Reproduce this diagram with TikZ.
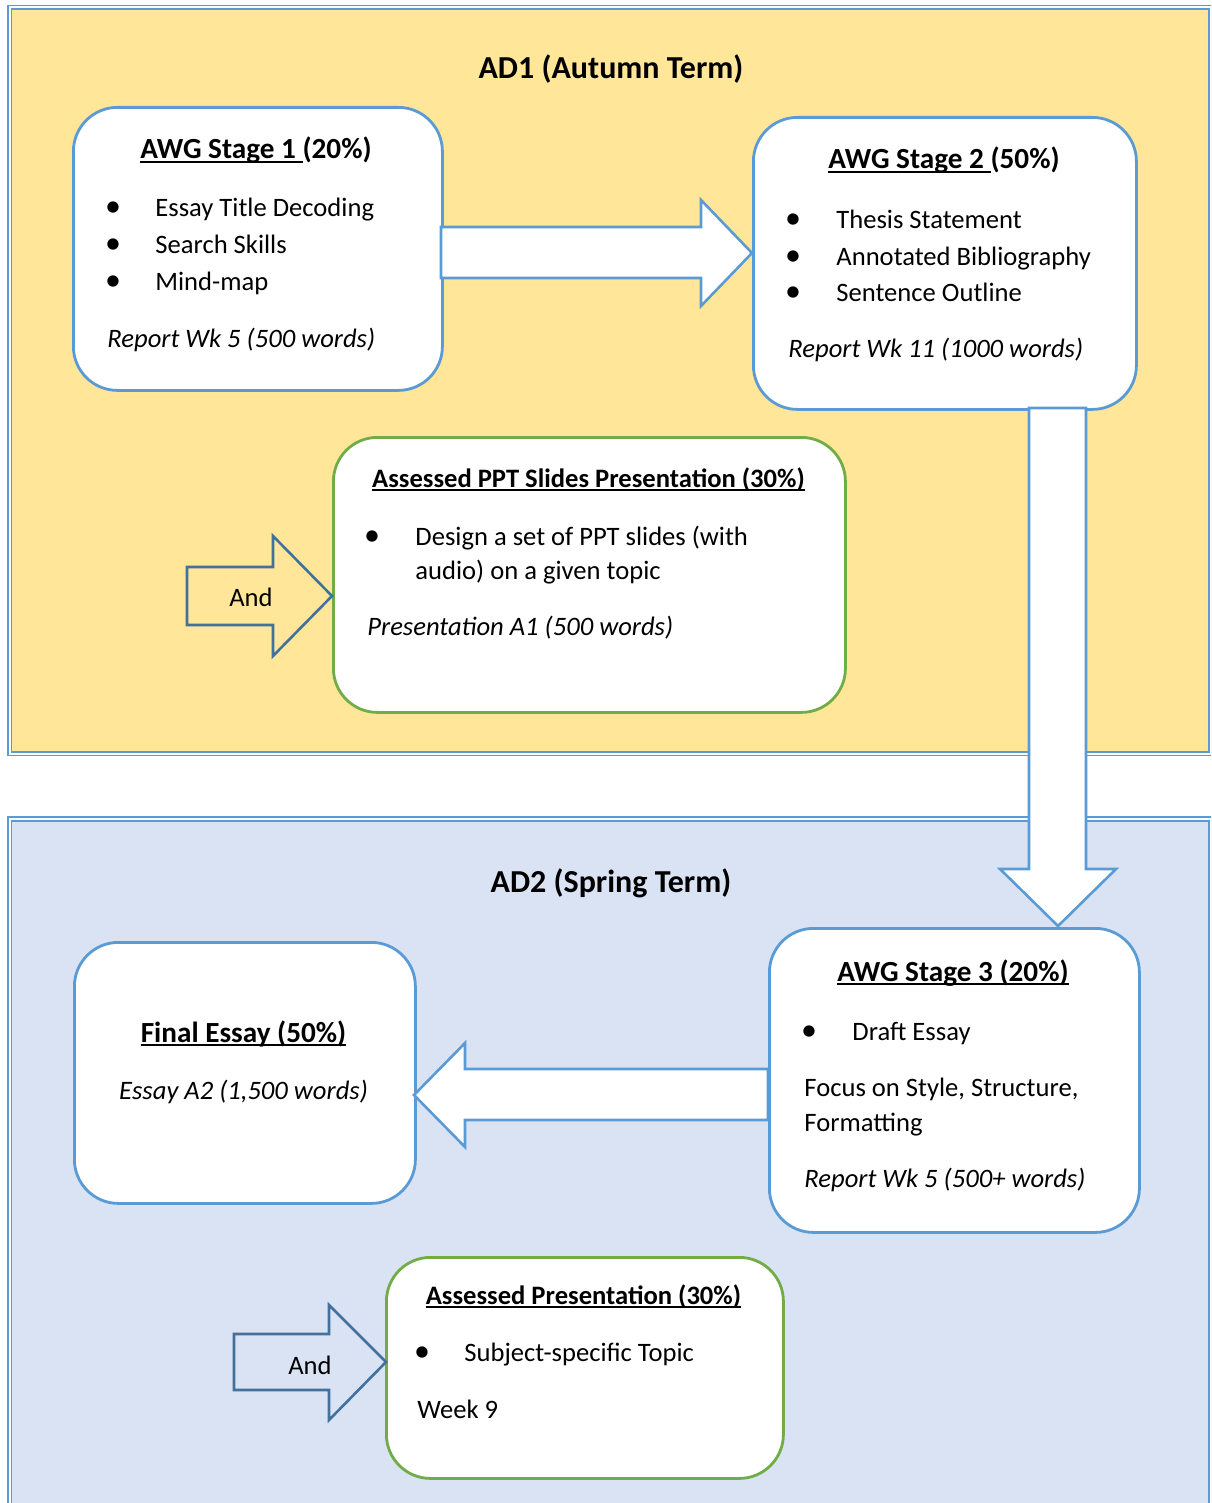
\documentclass[tikz,border=0pt]{standalone}
\usepackage{fontspec}
\setmainfont{Carlito}
\definecolor{yel}{HTML}{FFE699}
\definecolor{pblue}{HTML}{DAE3F3}
\definecolor{bl}{HTML}{5B9BD5}
\definecolor{dk}{HTML}{41719C}
\definecolor{gr}{HTML}{70AD47}
\newcommand\myul[1]{\setbox0\hbox{#1}\rlap{\rule[-2.2pt]{\wd0}{1.1pt}}\box0}
\tikzset{
 panel/.style={draw=bl, line width=0.8pt, double=white, double distance=1pt},
 box/.style={rectangle, rounded corners=22pt, draw=bl, fill=white, line width=1.4pt, anchor=north west, inner sep=0pt},
 gbox/.style={box, draw=gr},
 blk/.style={draw=bl, fill=white, line width=1.3pt, line join=miter},
 andarr/.style={draw=dk, line width=1.3pt, line join=miter},
 body/.style={font=\fontsize{13.3}{18.3}\selectfont, inner sep=0pt, anchor=base west},
 ital/.style={font=\fontsize{13.3}{18.3}\selectfont\itshape, inner sep=0pt, anchor=base west},
 head/.style={font=\fontsize{14.6}{18}\selectfont\bfseries, inner sep=0pt, anchor=base},
 shead/.style={font=\fontsize{13.3}{18}\selectfont\bfseries, inner sep=0pt, anchor=base},
 ttl/.style={font=\fontsize{16}{20}\selectfont\bfseries, inner sep=0pt, anchor=base},
 bul/.style={font=\fontsize{16}{18}\selectfont, inner sep=0pt, anchor=base},
}
\begin{document}
\begin{tikzpicture}[x=0.5pt,y=-0.5pt]
\useasboundingbox (0,0) rectangle (1211,1503);
\clip (0,0) rectangle (1211,1503);
\fill[white] (0,0) rectangle (1211,1503);
% panels
\draw[panel, fill=yel] (9.8,7.5) rectangle (1210.5,753.5);
\draw[panel, fill=pblue] (9.8,819) rectangle (1210.5,1540);
\node[ttl] (t1) at (611,79) {AD1 (Autumn Term)};
\node[ttl] (t2) at (611,892) {AD2 (Spring Term)};
% boxes
\node[box, minimum width=184.5pt, minimum height=141.5pt] (s1) at (72,106) {};
\node[box, minimum width=191.5pt, minimum height=146pt] (s2) at (752,116) {};
\node[gbox, minimum width=256pt, minimum height=137.5pt] (ppt) at (332,436) {};
\node[box, minimum width=185pt, minimum height=152pt] (s3) at (768,927) {};
\node[box, minimum width=170.5pt, minimum height=130.5pt] (fe) at (73,941) {};
\node[gbox, minimum width=198.5pt, minimum height=110.5pt] (ap) at (385,1256) {};
% block arrows
\draw[blk] (441,227) -- (701,227) -- (701,200) -- (752,253) -- (701,306) -- (701,278) -- (441,278) -- cycle;
\draw[blk] (1029,408) -- (1029,869) -- (1000,869) -- (1058,926) -- (1116,869) -- (1086,869) -- (1086,408) -- cycle;
\draw[blk] (768,1069) -- (465,1069) -- (465,1043) -- (414,1095) -- (465,1147) -- (465,1120) -- (768,1120) -- cycle;
\draw[andarr] (187,567) -- (273,567) -- (273,536) -- (332,596) -- (273,656) -- (273,625) -- (187,625) -- cycle;
\draw[andarr] (234,1334) -- (329,1334) -- (329,1305) -- (386,1362) -- (329,1420) -- (329,1390) -- (234,1390) -- cycle;
\node[body, anchor=base] (and1) at (251,606) {And};
\node[body, anchor=base] (and2) at (310,1374) {And};
% stage 1
\node[head] (s1h) at (256,159) {\myul{AWG Stage 1\ }(20\%)};
\node[bul] (s1b1) at (113,217) {•};
\node[bul] (s1b2) at (113,254) {•};
\node[bul] (s1b3) at (113,290) {•};
\node[body] (s1t1) at (155,217) {Essay Title Decoding};
\node[body] (s1t2) at (155,254) {Search Skills};
\node[body] (s1t3) at (155,290) {Mind-map};
\node[ital] (s1r) at (107,347) {Report Wk 5 (500 words)};
% stage 2
\node[head] (s2h) at (944,169) {\myul{AWG Stage 2\ }(50\%)};
\node[bul] (s2b1) at (793,228) {•};
\node[bul] (s2b2) at (793,265) {•};
\node[bul] (s2b3) at (793,301) {•};
\node[body] (s2t1) at (836,228) {Thesis Statement};
\node[body] (s2t2) at (836,265) {Annotated Bibliography};
\node[body] (s2t3) at (836,301) {Sentence Outline};
\node[ital] (s2r) at (788,357) {Report Wk 11 (1000 words)};
% ppt
\node[shead] (ph) at (588.5,487) {\myul{Assessed PPT Slides Presentation (30\%)}};
\node[bul] (pb1) at (372,545) {•};
\node[body] (pt1) at (415,545) {Design a set of PPT slides (with};
\node[body] (pt2) at (415,579) {audio) on a given topic};
\node[ital] (pr) at (367,635) {Presentation A1 (500 words)};
% stage 3
\node[head] (s3h) at (953,981) {\myul{AWG Stage 3 (20\%)}};
\node[bul] (s3b1) at (809,1040) {•};
\node[body] (s3t1) at (852,1040) {Draft Essay};
\node[body] (s3f1) at (804,1096) {Focus on Style, Structure,};
\node[body] (s3f2) at (804,1131) {Formatting};
\node[ital] (s3r) at (804,1187) {Report Wk 5 (500+ words)};
% final essay
\node[head] (feh) at (243.5,1042) {\myul{Final Essay (50\%)}};
\node[ital, anchor=base] (fer) at (243.5,1099) {Essay A2 (1,500 words)};
% assessed presentation
\node[shead] (aph) at (583.5,1304) {\myul{Assessed Presentation (30\%)}};
\node[bul] (apb1) at (422,1361) {•};
\node[body] (apt1) at (464,1361) {Subject-specific Topic};
\node[body] (apw) at (417,1418) {Week 9};
\end{tikzpicture}
\end{document}
